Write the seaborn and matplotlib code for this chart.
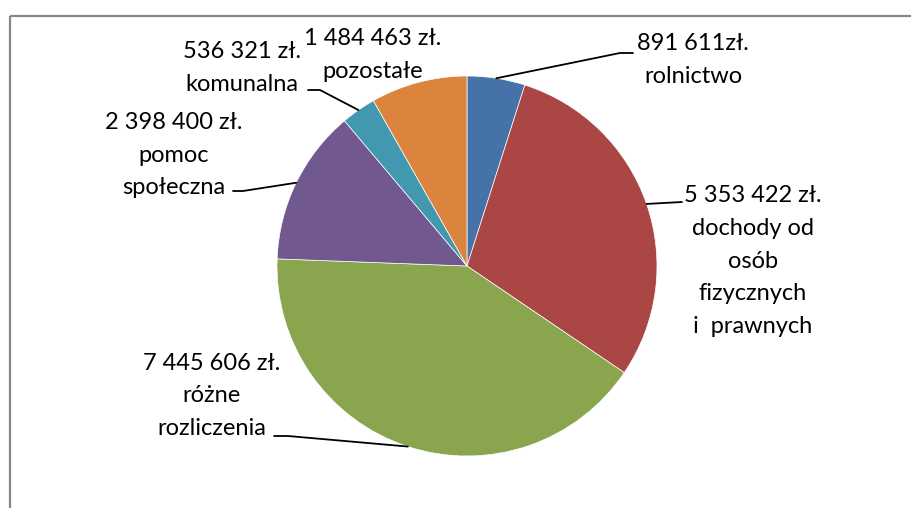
import numpy as np
import seaborn as sns
import matplotlib.pyplot as plt

# dane z wykresu
categories = ["rolnictwo", "dochody od\nosób\nfizycznych\ni  prawnych", "różne\nrozliczenia",
              "pomoc\nspołeczna", "komunalna", "pozostałe"]
value_labels = ["891 611zł.", "5 353 422 zł.", "7 445 606 zł.", "2 398 400 zł.",
                "536 321 zł.", "1 484 463 zł."]
values = [891611, 5353422, 7445606, 2398400, 536321, 1484463]
colors = ["#4572A7", "#AA4643", "#89A54E", "#71588F", "#4198AF", "#DB843D"]

# pozycje etykiet (piksele, y od góry) i punkty łamania linii odniesienia
label_pos = [(693, 60), (753, 261), (212, 396), (174, 155), (242, 68), (373, 55)]
leader_pts = [[(620, 53), (633, 53)], [(682, 202)], [(288, 436), (274, 436)],
              [(243, 191), (233, 191)], [(320, 90), (308, 90)], None]

W, H = 911, 508
sns.set_theme(style="white")
plt.rcParams['font.family'] = ['Lato', 'DejaVu Sans']

fig = plt.figure(figsize=(W / 100, H / 100), dpi=100)
ax = fig.add_axes([0, 0, 1, 1])

cx, cy, r = 467, H - 266, 190
wedges, _ = ax.pie(values, colors=colors, startangle=90, counterclock=False,
                   center=(cx, cy), radius=r,
                   wedgeprops=dict(edgecolor="white", linewidth=0.5))
ax.set_xlim(0, W)
ax.set_ylim(0, H)
ax.set_aspect("equal")
ax.axis("off")

# ramka wykresu
ax.plot([10, 10], [0, H - 16], color="#878787", lw=1.6, solid_capstyle="butt")
ax.plot([10, W], [H - 16, H - 16], color="#878787", lw=1.6, solid_capstyle="butt")

for w, vl, cat, pos, pts in zip(wedges, value_labels, categories, label_pos, leader_pts):
    ax.text(pos[0], H - pos[1], vl + "\n" + cat, ha="center", va="center",
            multialignment="center", fontsize=17, linespacing=1.68, color="black")
    if pts is None:
        continue
    ang = np.deg2rad((w.theta1 + w.theta2) / 2)
    ex, ey = cx + r * np.cos(ang), cy + r * np.sin(ang)
    xs = [ex] + [p[0] for p in pts]
    ys = [ey] + [H - p[1] for p in pts]
    ax.plot(xs, ys, color="black", lw=1.3)

fig.savefig("out.png", dpi=100)
